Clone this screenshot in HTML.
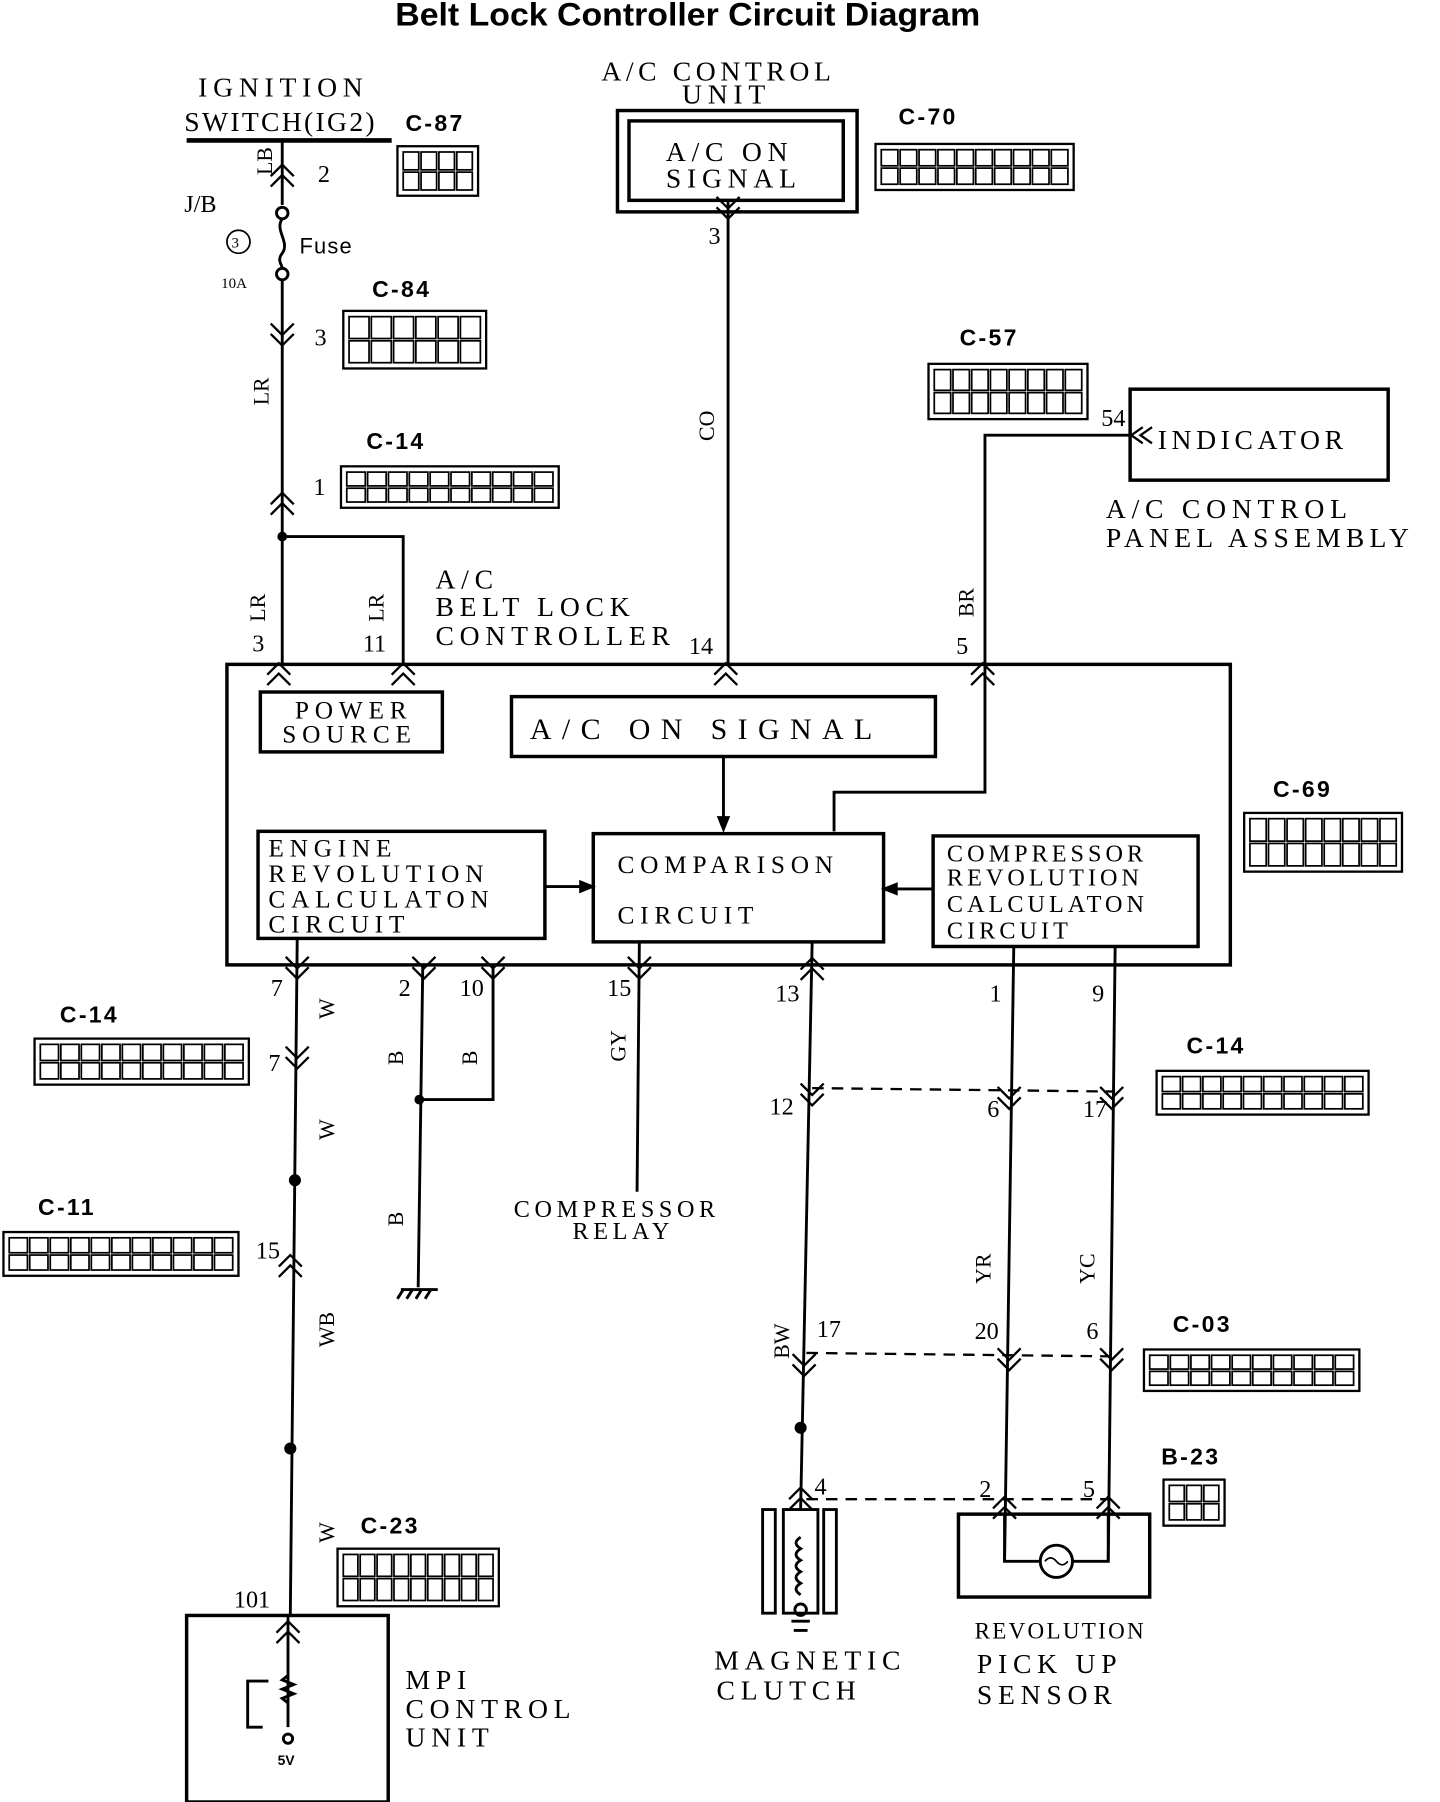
<!DOCTYPE html>
<html><head><meta charset="utf-8">
<style>
html,body{margin:0;padding:0;background:#fff;}
svg{display:block;}
text{font-family:"Liberation Serif",serif;fill:#000;}
.t{font-size:24px;letter-spacing:5px;}
.c{font-family:"Liberation Sans",sans-serif;font-weight:bold;font-size:20px;letter-spacing:2px;}
.n{font-size:21px;}
.v{font-size:19px;}
</style></head>
<body>
<svg id="s" width="1440" height="1802" viewBox="0 0 1250 1565" preserveAspectRatio="none" xmlns="http://www.w3.org/2000/svg">
<g stroke="#000" fill="none" stroke-width="2.5">
<line x1="162" y1="122" x2="340" y2="122" stroke-width="4"/>
<line x1="245" y1="122" x2="245" y2="178"/>
<circle cx="245" cy="185" r="5"/>
<path d="M245 190 C238 200,252 210,245 220 C240 226,245 230,245 233"/>
<circle cx="245" cy="238" r="5"/>
<line x1="245" y1="243" x2="245" y2="578"/>
<circle cx="207" cy="210" r="10" stroke-width="1.5"/>
<circle cx="245" cy="466" r="3" fill="#000"/>
<polyline points="245,466 350,466 350,578"/>
<rect x="536" y="96" width="208" height="88" stroke-width="3"/>
<rect x="546" y="105" width="186" height="69" stroke-width="3"/>
<line x1="632" y1="175" x2="632" y2="578"/>
<rect x="981" y="338" width="224" height="79" stroke-width="3"/>
<polyline points="981,378 855,378 855,688 724,688 724,722"/>
<rect x="197" y="577" width="871" height="261" stroke-width="3"/>
<rect x="226" y="601" width="158" height="52" stroke-width="3"/>
<rect x="444" y="605" width="368" height="52" stroke-width="3"/>
<rect x="224" y="722" width="249" height="93" stroke-width="3"/>
<rect x="515" y="724" width="252" height="94" stroke-width="3"/>
<rect x="810" y="726" width="230" height="96" stroke-width="3"/>
<line x1="628" y1="657" x2="628" y2="718"/>
<path d="M624 710 L628 720 L632 710Z" fill="#000"/>
<line x1="473" y1="770" x2="512" y2="770"/>
<path d="M504 766 L514 770 L504 774Z" fill="#000"/>
<line x1="810" y1="772" x2="770" y2="772"/>
<path d="M778 768 L768 772 L778 776Z" fill="#000"/>
<line x1="258" y1="815" x2="252" y2="1403"/>
<circle cx="256" cy="1025" r="4" fill="#000"/>
<circle cx="252" cy="1258" r="4" fill="#000"/>
<line x1="367" y1="838" x2="363" y2="1118"/>
<polyline points="428,838 428,955 363,955"/>
<circle cx="364" cy="955" r="3" fill="#000"/>
<line x1="348" y1="1120" x2="380" y2="1120"/>
<line x1="350" y1="1120" x2="345" y2="1128"/><line x1="358" y1="1120" x2="353" y2="1128"/><line x1="366" y1="1120" x2="361" y2="1128"/><line x1="374" y1="1120" x2="369" y2="1128"/>
<line x1="555" y1="818" x2="553" y2="1035"/>
<line x1="705" y1="818" x2="695" y2="1310"/>
<circle cx="695" cy="1240" r="4" fill="#000"/>
<line x1="880" y1="822" x2="872" y2="1357"/>
<line x1="968" y1="822" x2="962" y2="1357"/>
<g stroke-dasharray="10,7" stroke-width="2">
<line x1="705" y1="945" x2="968" y2="948"/>
<line x1="700" y1="1175" x2="968" y2="1178"/>
<line x1="700" y1="1302" x2="962" y2="1302"/>
</g>
<rect x="832" y="1315" width="166" height="72" stroke-width="3"/>
<polyline points="872,1315 872,1356 962,1356 962,1315"/>
<circle cx="917" cy="1356" r="14" fill="#fff"/>
<path d="M907 1356 Q912 1350 917 1356 Q922 1362 927 1356" stroke-width="1.5"/>
<rect x="662" y="1311" width="11" height="90"/>
<rect x="680" y="1311" width="30" height="90"/>
<rect x="715" y="1311" width="11" height="90"/>
<path d="M695 1335 q-8 5 0 10 q-8 5 0 10 q-8 5 0 10 q-8 5 0 10 q-8 5 0 10" />
<circle cx="695" cy="1398" r="5"/>
<line x1="687" y1="1408" x2="703" y2="1408"/><line x1="689" y1="1416" x2="701" y2="1416"/>
<rect x="162" y="1403" width="175" height="162" stroke-width="3"/>
<line x1="250" y1="1403" x2="250" y2="1500"/>
<path d="M250 1455 l-5 4 l10 4 l-10 4 l10 4 l-10 4 l5 4"/>
<polyline points="233,1460 215,1460 215,1500 228,1500"/>
<circle cx="250" cy="1510" r="4"/>
</g>
<g id="chev" stroke="#000" fill="none" stroke-width="2"></g>
<g id="conns" stroke="#000" fill="none" stroke-width="1.5"></g>

<text x="597" y="22" text-anchor="middle" transform="translate(597,0) scale(1.05,1) translate(-597,0)" style="font-family:'Liberation Sans',sans-serif;font-weight:bold;font-size:28px">Belt Lock Controller Circuit Diagram</text>
<text class="t" x="172" y="84">IGNITION</text>
<text class="t" x="160" y="114" style="letter-spacing:2px">SWITCH(IG2)</text>
<text class="c" x="352" y="114">C-87</text>
<text class="n" x="160" y="184">J/B</text>
<text x="201" y="215" style="font-size:13px">3</text>
<text x="192" y="250" style="font-size:13px">10A</text>
<text x="260" y="220" style="font-family:'Liberation Sans',sans-serif;font-size:19px;letter-spacing:1px">Fuse</text>
<text class="n" x="276" y="158">2</text>
<text class="v" transform="translate(236,152) rotate(-90)">LB</text>
<text class="c" x="323" y="258">C-84</text>
<text class="n" x="273" y="300">3</text>
<text class="v" transform="translate(233,352) rotate(-90)">LR</text>
<text class="c" x="318" y="390">C-14</text>
<text class="n" x="272" y="430">1</text>
<text class="v" transform="translate(230,540) rotate(-90)">LR</text>
<text class="v" transform="translate(333,540) rotate(-90)">LR</text>
<text class="n" x="219" y="566">3</text>
<text class="n" x="315" y="566">11</text>
<text class="t" x="378" y="511">A/C</text>
<text class="t" x="378" y="535">BELT LOCK</text>
<text class="t" x="378" y="560">CONTROLLER</text>
<text class="n" x="598" y="568">14</text>
<text class="n" x="830" y="568">5</text>
<text class="v" transform="translate(845,536) rotate(-90)">BR</text>
<text class="t" x="522" y="70" style="letter-spacing:4px">A/C CONTROL</text>
<text class="t" x="592" y="90">UNIT</text>
<text class="t" x="578" y="140">A/C ON</text>
<text class="t" x="578" y="163">SIGNAL</text>
<text class="c" x="780" y="108">C-70</text>
<text class="n" x="615" y="212">3</text>
<text class="v" transform="translate(620,383) rotate(-90)">CO</text>
<text class="c" x="833" y="300">C-57</text>
<text class="n" x="956" y="370">54</text>
<text class="t" x="1005" y="390" style="letter-spacing:4px">INDICATOR</text>
<text class="t" x="960" y="450">A/C CONTROL</text>
<text class="t" x="960" y="475" style="letter-spacing:4.5px">PANEL ASSEMBLY</text>
<text class="t" x="256" y="624" style="font-size:22px">POWER</text>
<text class="t" x="245" y="645" style="font-size:22px">SOURCE</text>
<text class="t" x="460" y="642" style="letter-spacing:9px;font-size:26px">A/C ON SIGNAL</text>
<text class="t" x="233" y="744" style="font-size:22px">ENGINE</text>
<text class="t" x="233" y="766" style="font-size:22px">REVOLUTION</text>
<text class="t" x="233" y="788" style="font-size:22px">CALCULATON</text>
<text class="t" x="233" y="810" style="font-size:22px">CIRCUIT</text>
<text class="t" x="536" y="758" style="font-size:22px">COMPARISON</text>
<text class="t" x="536" y="802" style="font-size:22px">CIRCUIT</text>
<text class="t" x="822" y="748" style="font-size:21px;letter-spacing:3.5px">COMPRESSOR</text>
<text class="t" x="822" y="769" style="font-size:21px;letter-spacing:3.5px">REVOLUTION</text>
<text class="t" x="822" y="792" style="font-size:21px;letter-spacing:3.5px">CALCULATON</text>
<text class="t" x="822" y="815" style="font-size:21px;letter-spacing:3.5px">CIRCUIT</text>
<text class="c" x="1105" y="692">C-69</text>
<text class="n" x="235" y="865">7</text>
<text class="n" x="346" y="865">2</text>
<text class="n" x="399" y="865">10</text>
<text class="n" x="527" y="865">15</text>
<text class="n" x="673" y="870">13</text>
<text class="n" x="859" y="870">1</text>
<text class="n" x="948" y="870">9</text>
<text class="v" transform="translate(290,885) rotate(-90)">W</text>
<text class="c" x="52" y="888">C-14</text>
<text class="n" x="233" y="930">7</text>
<text class="v" transform="translate(290,990) rotate(-90)">W</text>
<text class="v" transform="translate(350,925) rotate(-90)">B</text>
<text class="v" transform="translate(414,925) rotate(-90)">B</text>
<text class="v" transform="translate(350,1065) rotate(-90)">B</text>
<text class="v" transform="translate(543,922) rotate(-90)">GY</text>
<text class="t" x="446" y="1057" style="font-size:21px;letter-spacing:4px">COMPRESSOR</text>
<text class="t" x="497" y="1076" style="font-size:21px;letter-spacing:4px">RELAY</text>
<text class="c" x="33" y="1055">C-11</text>
<text class="n" x="222" y="1093">15</text>
<text class="v" transform="translate(290,1170) rotate(-90)">WB</text>
<text class="v" transform="translate(290,1340) rotate(-90)">W</text>
<text class="c" x="313" y="1332">C-23</text>
<text class="n" x="203" y="1396">101</text>
<text x="241" y="1533" style="font-size:12px;font-family:'Liberation Sans',sans-serif;font-weight:bold">5V</text>
<text class="t" x="352" y="1467">MPI</text>
<text class="t" x="352" y="1492">CONTROL</text>
<text class="t" x="352" y="1517">UNIT</text>
<text class="n" x="668" y="968">12</text>
<text class="n" x="857" y="970">6</text>
<text class="n" x="940" y="970">17</text>
<text class="c" x="1030" y="915">C-14</text>
<text class="v" transform="translate(860,1115) rotate(-90)">YR</text>
<text class="v" transform="translate(950,1115) rotate(-90)">YC</text>
<text class="v" transform="translate(685,1180) rotate(-90)">BW</text>
<text class="n" x="709" y="1161">17</text>
<text class="n" x="846" y="1163">20</text>
<text class="n" x="943" y="1163">6</text>
<text class="c" x="1018" y="1157">C-03</text>
<text class="c" x="1008" y="1272">B-23</text>
<text class="n" x="707" y="1298">4</text>
<text class="n" x="850" y="1300">2</text>
<text class="n" x="940" y="1300">5</text>
<text class="t" x="846" y="1423" style="font-size:20px;letter-spacing:2px">REVOLUTION</text>
<text class="t" x="848" y="1453">PICK UP</text>
<text class="t" x="848" y="1480">SENSOR</text>
<text class="t" x="620" y="1450">MAGNETIC</text>
<text class="t" x="622" y="1476">CLUTCH</text>
</svg>
<script>
var NS="http://www.w3.org/2000/svg";
function el(p,t,a){var e=document.createElementNS(NS,t);for(var k in a)e.setAttribute(k,a[k]);document.getElementById(p).appendChild(e);}
function ch(x,y,up){var d=up?-1:1,s="";for(var i=0;i<2;i++){var yy=y+i*9*(up?1:-1);s+="M"+(x-10)+" "+(yy-10*d)+" L"+x+" "+yy+" L"+(x+10)+" "+(yy-10*d)+" ";}el("chev","path",{d:s});}
ch(245,143,1);
ch(245,300,0);ch(245,428,1);
ch(242,576,1);ch(350,576,1);ch(630,576,1);ch(853,576,1);
ch(632,190,0);
ch(258,850,0);ch(368,850,0);ch(428,850,0);ch(555,850,0);ch(705,832,1);
ch(258,928,0);ch(252,1090,1);ch(250,1408,1);
ch(705,960,0);ch(876,963,0);ch(965,963,0);
ch(698,1195,0);ch(876,1190,0);ch(965,1190,0);
ch(695,1292,1);ch(872,1300,1);ch(962,1300,1);
el("chev","path",{d:"M992 371 L982 378 L992 385 M1000 371 L990 378 L1000 385"});
function conn(x,y,w,h,cols,rows){el("conns","rect",{x:x,y:y,width:w,height:h,"stroke-width":2});
 var cw=(w-8)/cols,rh=(h-8)/rows;for(var r=0;r<rows;r++)for(var c=0;c<cols;c++)el("conns","rect",{x:x+4+c*cw+1,y:y+4+r*rh+1,width:cw-2,height:rh-2});}
conn(345,127,70,43,4,2);
conn(298,270,124,50,6,2);
conn(296,405,189,36,10,2);
conn(760,125,172,40,10,2);
conn(806,316,138,48,8,2);
conn(1080,706,137,51,8,2);
conn(30,902,186,40,10,2);
conn(3,1070,204,38,11,2);
conn(293,1345,140,50,9,2);
conn(1004,930,184,38,10,2);
conn(993,1172,187,36,10,2);
conn(1010,1285,53,40,3,2);
</script>
</body></html>
